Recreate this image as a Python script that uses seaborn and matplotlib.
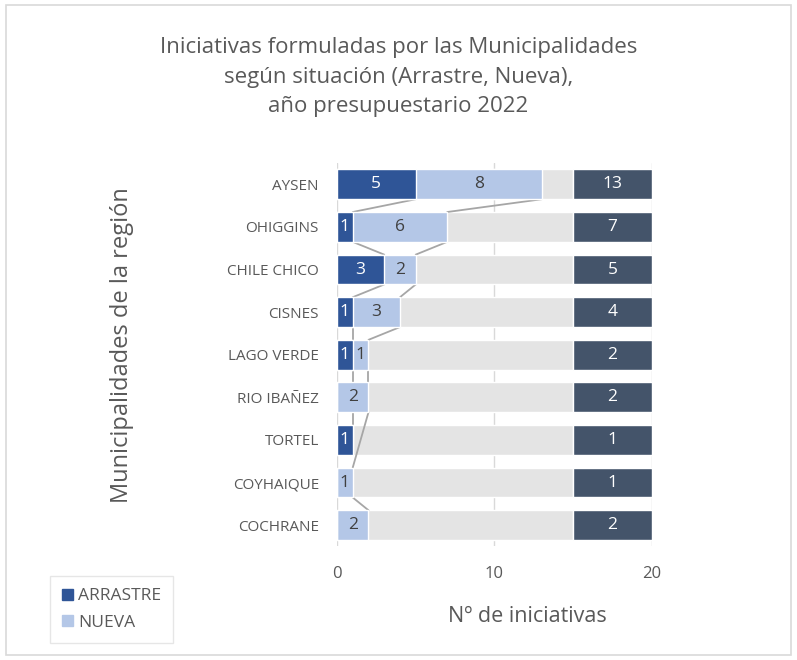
import numpy as np
import pandas as pd
import matplotlib
matplotlib.use("Agg")
import matplotlib.pyplot as plt
import seaborn as sns
from matplotlib.patches import Rectangle, Patch

# data
municipios = ["AYSEN", "OHIGGINS", "CHILE CHICO", "CISNES", "LAGO VERDE",
              "RIO IBAÑEZ", "TORTEL", "COYHAIQUE", "COCHRANE"]
arrastre = [5, 1, 3, 1, 1, 0, 1, 0, 0]
nueva = [8, 6, 2, 3, 1, 2, 0, 1, 2]

df = pd.DataFrame({"municipio": municipios, "arrastre": arrastre, "nueva": nueva})
df["total"] = df["arrastre"] + df["nueva"]

sns.set_style("white")
plt.rcParams["font.family"] = ["Open Sans", "DejaVu Sans"]

c_arr = "#2F5597"
c_nue = "#B4C7E7"
c_bg = "#E4E4E4"
c_tot = "#44546A"
c_txt = "#595959"
bh = 0.7
cap = 15      # where the grey filler ends / total block starts
tot_w = 5     # width of the total block

fig = plt.figure(figsize=(7.97, 6.6), dpi=100)
ax = fig.add_axes([0.4228, 0.172, 0.3952, 0.581])

df["fondo"] = cap
sns.barplot(data=df, y="municipio", x="fondo", orient="h", width=bh,
            color=c_bg, saturation=1, ax=ax, zorder=1)
sns.barplot(data=df, y="municipio", x="total", orient="h", width=bh,
            color=c_nue, saturation=1, ax=ax, zorder=3)
sns.barplot(data=df, y="municipio", x="arrastre", orient="h", width=bh,
            color=c_arr, saturation=1, ax=ax, zorder=4)
ypos = np.arange(len(df))
ax.barh(ypos, tot_w, left=cap, height=bh, color=c_tot, zorder=3)

# series lines (Excel style), skipping empty segments
for col in ["arrastre", "nueva"]:
    ends = df["arrastre"] if col == "arrastre" else df["total"]
    idx = [i for i in range(len(df)) if df[col][i] > 0]
    for a, b in zip(idx[:-1], idx[1:]):
        ax.plot([ends[a], ends[b]], [a + bh / 2, b - bh / 2],
                color="#A6A6A6", lw=1.3, zorder=2)

# labels
for i, r in df.iterrows():
    if r["arrastre"] > 0:
        ax.text(r["arrastre"] / 2, i, str(r["arrastre"]), ha="center", va="center",
                color="white", fontsize=12.5, zorder=5)
    if r["nueva"] > 0:
        ax.text(r["arrastre"] + r["nueva"] / 2, i, str(r["nueva"]), ha="center",
                va="center", color="#404040", fontsize=12.5, zorder=5)
    ax.text(cap + tot_w / 2, i, str(r["total"]), ha="center", va="center",
            color="white", fontsize=12.5, zorder=5)

ax.set_xlim(0, 20)
ax.set_ylim(len(df) - 0.5, -0.5)
ax.set_xticks([0, 10, 20])
ax.grid(axis="x", color="#D9D9D9", lw=1, zorder=0)
ax.set_axisbelow(True)
for s in ax.spines.values():
    s.set_visible(False)
ax.tick_params(axis="both", length=0, colors=c_txt)
ax.tick_params(axis="y", pad=13, labelsize=11)
ax.tick_params(axis="x", pad=14, labelsize=12)
ax.set_xlabel("")
ax.set_ylabel("")

fig.text(527 / 797, 1 - 617 / 660, "Nº de iniciativas", ha="center", va="center",
         fontsize=15.5, color=c_txt)
fig.text(0.153, 0.477, "Municipalidades de la región", rotation=90,
         ha="center", va="center", fontsize=17, color=c_txt)
fig.text(0.5, 0.8833, "Iniciativas formuladas por las Municipalidades\n"
         "según situación (Arrastre, Nueva),\naño presupuestario 2022",
         ha="center", va="center", fontsize=16, color=c_txt, linespacing=1.56)

handles = [Patch(color=c_arr, label="ARRASTRE"), Patch(color=c_nue, label="NUEVA")]
leg = fig.legend(handles=handles, loc="lower left", bbox_to_anchor=(0.063, 0.026),
                 borderaxespad=0, frameon=True, fontsize=12.5, handlelength=0.6,
                 handleheight=0.6, handletextpad=0.3, labelcolor=c_txt,
                 fancybox=False, borderpad=0.7, labelspacing=0.6)
leg.get_frame().set_edgecolor("#E0E0E0")

fig.patches.append(Rectangle((0.008, 0.008), 0.985, 0.984, transform=fig.transFigure,
                             fill=False, edgecolor="#D9D9D9", lw=1.2))

fig.savefig("out.png", dpi=100, facecolor="white")
